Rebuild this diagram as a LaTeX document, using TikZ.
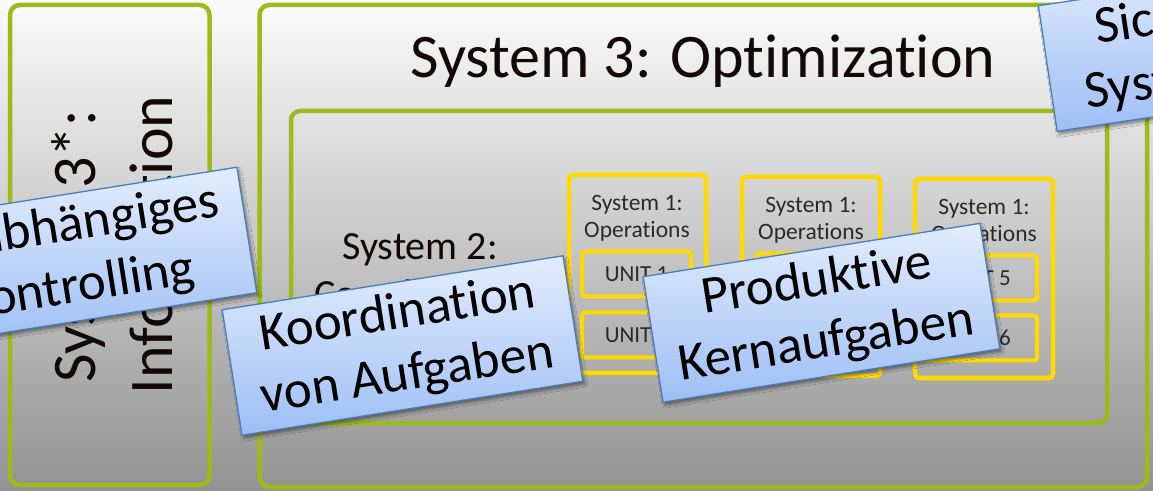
\documentclass[tikz,border=0pt]{standalone}
\usepackage{fontspec}
\setmainfont{Carlito}[Ligatures={NoCommon}]
\usetikzlibrary{shadows.blur}
\definecolor{vsmgreen}{HTML}{9BBB19}
\definecolor{vsmyellow}{HTML}{FFD900}
\definecolor{calloutborder}{HTML}{4A7EBB}
\definecolor{callouttop}{HTML}{E3EDFD}
\definecolor{calloutbottom}{HTML}{9DBEF5}
\definecolor{bgtop}{HTML}{FBFBFB}
\definecolor{bgbottom}{HTML}{939393}
\definecolor{textgray}{HTML}{2A2A2A}
\definecolor{textdark}{HTML}{120808}
\begin{document}
\begin{tikzpicture}[x=1pt,y=1pt,
  greenbox/.style={draw=vsmgreen,line width=4.5pt,rounded corners=10pt,inner sep=0pt},
  yellowbox/.style={draw=vsmyellow,line width=4.5pt,rounded corners=4pt,inner sep=0pt},
  unitbox/.style={draw=vsmyellow,line width=4pt,rounded corners=3pt,inner sep=0pt,
    minimum width=109pt,minimum height=45pt,text=textgray,font=\fontsize{23}{27}\selectfont},
  sysonelabel/.style={align=center,text=textgray,inner sep=0pt,font=\fontsize{23.5}{27}\selectfont},
  bigtext/.style={text=textdark,inner sep=0pt,font=\fontsize{62}{76}\selectfont},
  callout/.style={draw=calloutborder,line width=1.3pt,top color=callouttop,bottom color=calloutbottom,
    align=center,inner sep=0pt,minimum height=127pt,text=black,
    font=\fontsize{53}{62}\selectfont,
    blur shadow={shadow xshift=2pt,shadow yshift=-3pt,shadow blur radius=3pt,shadow opacity=45}}
]
\useasboundingbox (0,0) rectangle (1153,490);
\clip (0,0) rectangle (1153,490);
\shade[top color=bgtop,bottom color=bgbottom] (0,0) rectangle (1153,490);

% System 3* box
\node[greenbox,minimum width=199.5pt,minimum height=480pt] (s3starbox) at (109.75,245) {};
\node[bigtext,anchor=base,rotate=90] (s3starA) at (95,244) {System 3*:};
\node[bigtext,anchor=base,rotate=90] (s3starB) at (172,245) {Information};

% System 3 box
\node[greenbox,minimum width=887.5pt,minimum height=482pt] (s3box) at (703.25,244) {};
\node[bigtext,anchor=base] (s3title) at (703,412) {System 3: Optimization};

% System 2 box
\node[greenbox,rounded corners=9pt,minimum width=816pt,minimum height=312pt] (s2box) at (699,223) {};
\node[text=textdark,align=center,inner sep=0pt,font=\fontsize{40}{48}\selectfont] (s2label) at (420,219) {System 2:\\Coordination};

% System 1 boxes
\node[yellowbox,minimum width=137pt,minimum height=198pt] (s1a) at (637.5,216) {};
\node[yellowbox,minimum width=138pt,minimum height=199pt] (s1b) at (811,213.5) {};
\node[yellowbox,minimum width=138pt,minimum height=199pt] (s1c) at (984,211.5) {};
\node[sysonelabel] (s1aL) at (637,272) {System 1:\\Operations};
\node[sysonelabel] (s1bL) at (811,270) {System 1:\\Operations};
\node[sysonelabel] (s1cL) at (984,268) {System 1:\\Operations};

\node[unitbox] (u1) at (636.5,216) {UNIT 1};
\node[unitbox] (u2) at (636.5,155) {UNIT 2};
\node[unitbox] (u3) at (810.5,214) {};
\node[unitbox] (u4) at (810.5,153) {};
\node[unitbox,minimum width=116pt] (u5) at (979,212) {UNIT 5};
\node[unitbox,minimum width=116pt] (u6) at (979,152) {UNIT 6};

% Callouts
\node[callout,minimum width=352pt,rotate=9] (c1) at (73,232.5) {Unabhängiges\\Controlling};
\node[callout,minimum width=345pt,rotate=9] (c2) at (402.5,144.5) {Koordination\\von Aufgaben};
\node[callout,minimum width=341pt,rotate=9] (c3) at (821.5,177.25) {Produktive\\Kernaufgaben};
\node[callout,minimum width=318pt,rotate=8.5] (c4) at (1205,445) {Sicherung\\Systemziele};
\end{tikzpicture}
\end{document}
